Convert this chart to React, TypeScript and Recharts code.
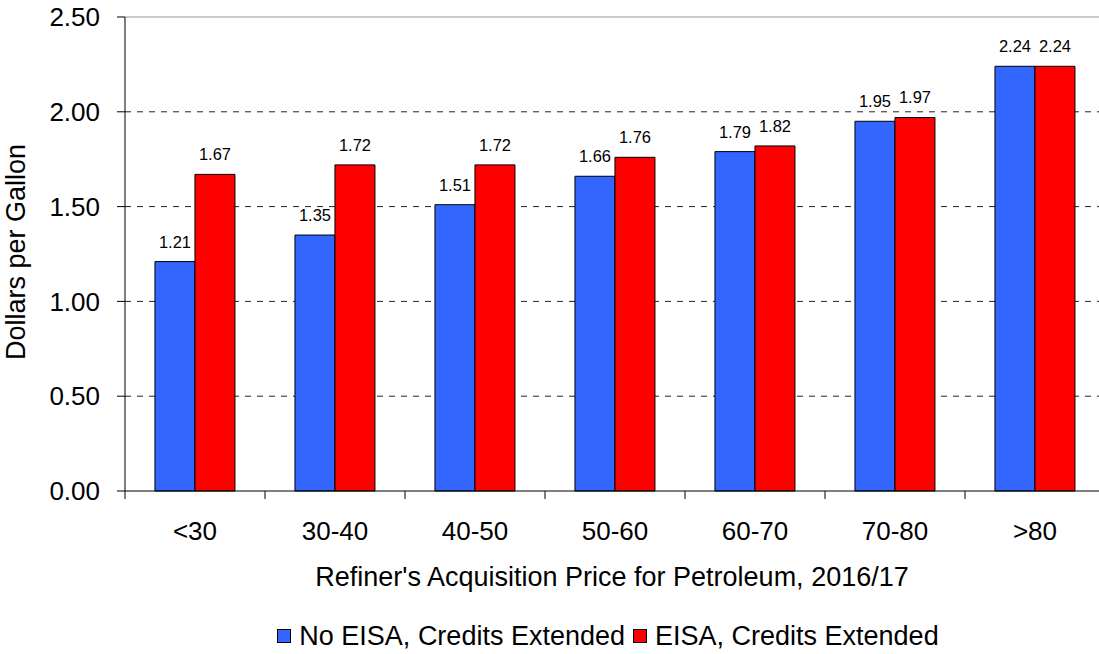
import { BarChart, Bar, XAxis, YAxis, CartesianGrid, Legend, LabelList, ReferenceLine, Label } from 'recharts';

const categories = ['<30', '30-40', '40-50', '50-60', '60-70', '70-80', '>80'];
const noEisa = [1.21, 1.35, 1.51, 1.66, 1.79, 1.95, 2.24];
const eisa = [1.67, 1.72, 1.72, 1.76, 1.82, 1.97, 2.24];
const yTicks = [0, 0.5, 1.0, 1.5, 2.0, 2.5];
const dashedLines = [0.5, 1.0, 1.5, 2.0];

const data = categories.map((c, i) => ({ category: c, noEisa: noEisa[i], eisa: eisa[i] }));

const FONT = '"Liberation Sans", Arial, sans-serif';
const BLUE = '#3366FF';
const RED = '#FF0000';

// plot spans x 125..1105 (the right end is cropped by the window)
const CHART_W = 1110;
const Y_W = 125;
const RIGHT = 5;
const BAND = (CHART_W - Y_W - RIGHT) / categories.length;

const XTick = ({ x, y, payload, index }: any) => {
  const left = x - BAND / 2;
  return (
    <g>
      <line x1={left} y1={y} x2={left} y2={y + 8} stroke="#000" />
      {index === categories.length - 1 && (
        <line x1={left + BAND} y1={y} x2={left + BAND} y2={y + 8} stroke="#000" />
      )}
      <text x={x} y={y + 49} textAnchor="middle" fontSize={26} fontFamily={FONT} fill="#000">
        {payload.value}
      </text>
    </g>
  );
};

const LegendBox = () => (
  <div style={{ height: 36, display: 'flex', justifyContent: 'center', alignItems: 'center', fontFamily: FONT, fontSize: 27, color: '#000', paddingLeft: 125 }}>
    {[{ name: 'No EISA, Credits Extended', color: BLUE }, { name: 'EISA, Credits Extended', color: RED }].map((s) => (
      <span key={s.name} style={{ display: 'flex', alignItems: 'center', marginRight: 8 }}>
        <span style={{ width: 12, height: 12, background: s.color, border: '1px solid #000', marginRight: 8 }} />
        {s.name}
      </span>
    ))}
  </div>
);

export default function App() {
  return (
    <div style={{ position: 'absolute', left: 0, top: 0, width: 1099, height: 654, overflow: 'hidden', background: '#fff' }}>
      <BarChart
        width={CHART_W}
        height={654}
        data={data}
        margin={{ top: 17, right: RIGHT, bottom: 0, left: 0 }}
        barCategoryGap="21.4%"
        barGap={0}
      >
        <CartesianGrid vertical={false} horizontalValues={dashedLines} stroke="#222" strokeDasharray="6 6" />
        <ReferenceLine y={2.5} stroke="#999" strokeWidth={1} />
        <XAxis
          dataKey="category"
          height={127}
          axisLine={{ stroke: '#000' }}
          tickLine={false}
          tickSize={0}
          tickMargin={0}
          interval={0}
          tick={<XTick />}
        >
          <Label
            content={() => (
              <text x={612} y={586} textAnchor="middle" fontSize={27} fontFamily={FONT} fill="#000">
                Refiner's Acquisition Price for Petroleum, 2016/17
              </text>
            )}
          />
        </XAxis>
        <YAxis
          width={Y_W}
          domain={[0, 2.5]}
          ticks={yTicks}
          tickFormatter={(v: number) => v.toFixed(2)}
          axisLine={{ stroke: '#000' }}
          tickLine={{ stroke: '#000' }}
          tickSize={8}
          tickMargin={17}
          tick={{ fontSize: 26, fontFamily: FONT, fill: '#000' }}
        >
          <Label
            content={() => (
              <text x={18} y={252} transform="rotate(-90 18 252)" textAnchor="middle" dominantBaseline="middle" fontSize={27} fontFamily={FONT} fill="#000">
                Dollars per Gallon
              </text>
            )}
          />
        </YAxis>
        <Legend verticalAlign="bottom" content={<LegendBox />} wrapperStyle={{ width: 1099, left: 0 }} />
        <Bar dataKey="noEisa" name="No EISA, Credits Extended" fill={BLUE} stroke="#000" strokeWidth={1} isAnimationActive={false}>
          <LabelList dataKey="noEisa" position="top" offset={14} formatter={(v: any) => Number(v).toFixed(2)} style={{ fontSize: 16.5, fontFamily: FONT, fill: '#000' }} />
        </Bar>
        <Bar dataKey="eisa" name="EISA, Credits Extended" fill={RED} stroke="#000" strokeWidth={1} isAnimationActive={false}>
          <LabelList dataKey="eisa" position="top" offset={14} formatter={(v: any) => Number(v).toFixed(2)} style={{ fontSize: 16.5, fontFamily: FONT, fill: '#000' }} />
        </Bar>
      </BarChart>
    </div>
  );
}
